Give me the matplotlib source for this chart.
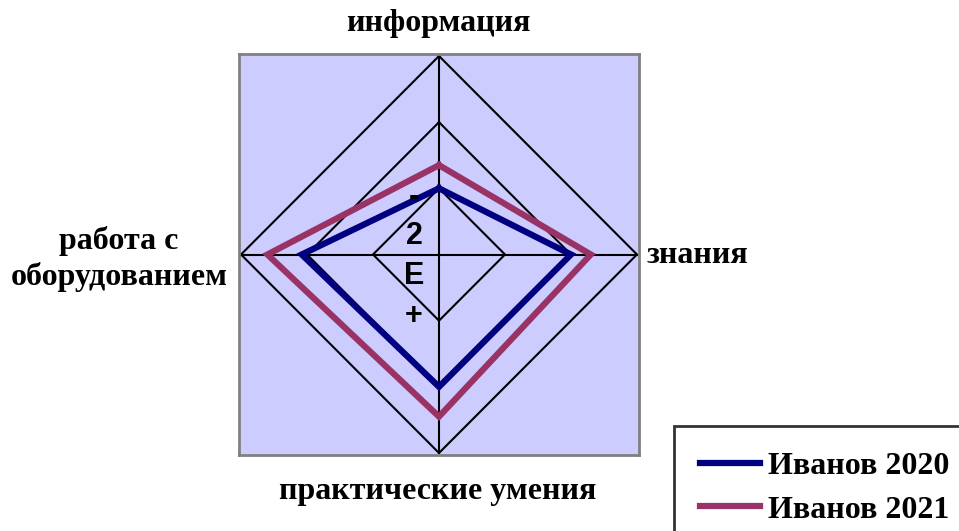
import numpy as np
import matplotlib.pyplot as plt

# data (scale 0..3, three grid rings)
categories = ['информация', 'знания', 'практические умения', 'работа с\nоборудованием']
ivanov_2020 = [1.0, 2.0, 2.0, 2.08]
ivanov_2021 = [1.35, 2.3, 2.45, 2.6]
ring_levels = [1, 2, 3]
odd_ticks = ['-', '2', 'E', '+']   # garbled tick glyphs as seen on the chart

W, H = 959, 531
fig = plt.figure(figsize=(W / 100, H / 100), dpi=100)

# plot area in pixels: x 239..639, y 54..455
ax = fig.add_axes([239 / W, 1 - 455 / H, 400 / W, 401 / H])
ax.set_facecolor('#CCCCFF')
rmax = 3.0 * 200 / 198
ax.set_xlim(-rmax, rmax)
ax.set_ylim(-rmax, rmax)
ax.set_xticks([])
ax.set_yticks([])
for s in ax.spines.values():
    s.set_color('#808080')
    s.set_linewidth(2)

n = len(categories)
theta = np.arange(n) * 2 * np.pi / n  # clockwise from top


def to_xy(vals):
    v = np.asarray(vals + vals[:1], dtype=float)
    t = np.append(theta, theta[0])
    return v * np.sin(t), v * np.cos(t)


# grid diamonds and spokes
for lv in ring_levels:
    gx, gy = to_xy([lv] * n)
    ax.plot(gx, gy, color='black', lw=1.5, zorder=1)
for t in theta:
    ax.plot([0, rmax * 0.99 * np.sin(t)], [0, rmax * 0.99 * np.cos(t)],
            color='black', lw=1.5, zorder=1)

x1, y1 = to_xy(ivanov_2020)
x2, y2 = to_xy(ivanov_2021)
l1, = ax.plot(x1, y1, color='#000080', lw=4.5, zorder=3, label='Иванов 2020',
              solid_joinstyle='miter')
l2, = ax.plot(x2, y2, color='#993366', lw=4.5, zorder=2, label='Иванов 2021',
              solid_joinstyle='miter')

# tick glyphs
for i, s in enumerate(odd_ticks):
    fig.text(414 / W, 1 - (197 + 39.5 * i) / H, s, ha='center', va='center',
             fontsize=22, fontweight='bold', family='Liberation Sans')

lab = dict(fontsize=23, fontweight='bold', family='Liberation Serif')
fig.text(438 / W, 1 - 24 / H, categories[0], ha='center', va='center', **lab)
fig.text(647 / W, 1 - 256 / H, categories[1], ha='left', va='center', **lab)
fig.text(438 / W, 1 - 492 / H, categories[2], ha='center', va='center', **lab)
fig.text(119 / W, 1 - 259 / H, categories[3], ha='center', va='center',
         linespacing=1.3, **lab)

leg = fig.legend(handles=[l1, l2], loc='upper left',
                 bbox_to_anchor=(674 / W, 1 - 426 / H),
                 prop=dict(family='Liberation Serif', weight='bold', size=23),
                 frameon=True, fancybox=False, borderpad=0.8,
                 handlelength=1.9, handletextpad=0.25, labelspacing=0.45,
                 borderaxespad=0)
leg.get_frame().set_edgecolor('black')
leg.get_frame().set_linewidth(2)

fig.savefig('out.png', dpi=100)
